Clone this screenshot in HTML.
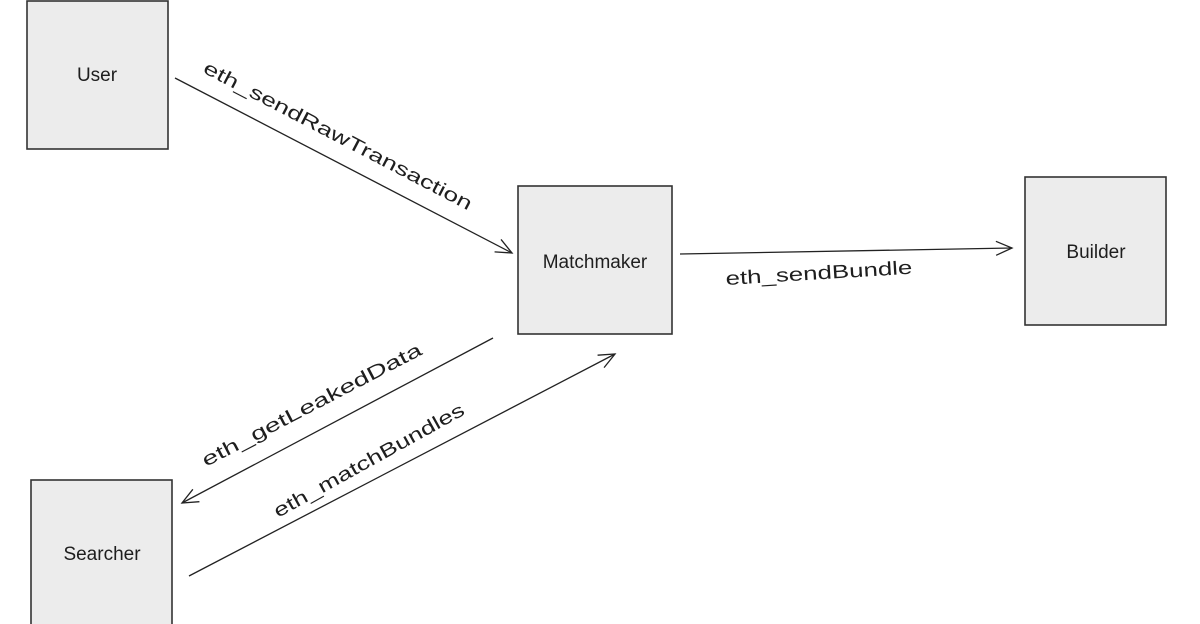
<!DOCTYPE html>
<html><head><meta charset="utf-8"><style>
html,body{margin:0;padding:0;background:#fff;}
svg{display:block;}
text{font-family:"Liberation Sans",sans-serif;fill:#1e1e1e;}
</style></head><body>
<svg width="1200" height="624" viewBox="0 0 1200 624" xmlns="http://www.w3.org/2000/svg">
<defs>
<marker id="a" markerWidth="20" markerHeight="20" refX="18" refY="10" orient="auto" markerUnits="userSpaceOnUse">
<path d="M2,3 L18,10 L2,17" fill="none" stroke="#222" stroke-width="1.3"/>
</marker>
</defs>
<g fill="#ececec" stroke="#333" stroke-width="1.6">
<rect x="27" y="1" width="141" height="148"/>
<rect x="518" y="186" width="154" height="148"/>
<rect x="1025" y="177" width="141" height="148"/>
<rect x="31" y="480" width="141" height="150"/>
</g>
<g font-size="19" text-anchor="middle">
<text x="97" y="81">User</text>
<text x="595" y="268">Matchmaker</text>
<text x="1096" y="258">Builder</text>
<text x="102" y="560">Searcher</text>
</g>
<g stroke="#222" stroke-width="1.3" fill="none" marker-end="url(#a)">
<line x1="175" y1="78" x2="512" y2="253"/>
<line x1="680" y1="254" x2="1012" y2="248"/>
<line x1="493" y1="338" x2="182" y2="503"/>
<line x1="189" y1="576" x2="615" y2="354"/>
</g>
<g font-size="19">
<text transform="translate(202,72) rotate(27.5)" textLength="300" lengthAdjust="spacingAndGlyphs">eth_sendRawTransaction</text>
<text transform="translate(726,285) rotate(-3.5)" textLength="187" lengthAdjust="spacingAndGlyphs">eth_sendBundle</text>
<text transform="translate(206,467) rotate(-27.5)" textLength="245" lengthAdjust="spacingAndGlyphs">eth_getLeakedData</text>
<text transform="translate(278,518) rotate(-29)" textLength="215" lengthAdjust="spacingAndGlyphs">eth_matchBundles</text>
</g>
</svg>
</body></html>
